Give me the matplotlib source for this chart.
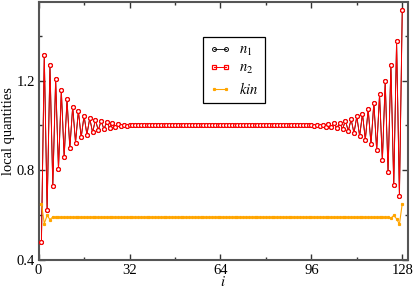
import matplotlib
matplotlib.use("Agg")
import matplotlib.pyplot as plt
from matplotlib.lines import Line2D
from matplotlib.ticker import MultipleLocator

plt.rcParams.update({
    "font.family": "serif",
    "font.serif": ["Liberation Serif", "DejaVu Serif"],
    "mathtext.fontset": "stix",
    "font.size": 10.5,
})

# site index
i = list(range(1, 129))

# local density (n1 and n2 coincide)
n_left = [0.481, 1.316, 0.622, 1.270, 0.730, 1.206, 0.804, 1.156, 0.859, 1.116,
          0.899, 1.084, 0.924, 1.065, 0.947, 1.044, 0.959, 1.032, 0.969, 1.025,
          0.979, 1.020, 0.984, 1.015, 0.990, 1.010, 0.993, 1.007, 0.996, 1.004,
          0.998, 1.002]
n_mid = [1.000] * 64
n_right = [0.998, 1.003, 0.996, 1.004, 0.994, 1.006, 0.991, 1.009, 0.988, 1.013,
           0.984, 1.022, 0.975, 1.028, 0.966, 1.040, 0.953, 1.052, 0.937, 1.072,
           0.916, 1.102, 0.889, 1.138, 0.844, 1.196, 0.792, 1.270, 0.733, 1.375,
           0.686, 1.516]
n1 = n_left + n_mid + n_right
n2 = list(n1)

kin_left = [0.652, 0.563, 0.599, 0.581, 0.592]
kin_mid = [0.590] * 118
kin_right = [0.587, 0.599, 0.584, 0.560, 0.652]
kin = kin_left + kin_mid + kin_right

C_N1 = "black"
C_N2 = "#ff0000"
C_KIN = "#ffa500"

fig = plt.figure(figsize=(4.15, 2.9), dpi=100)
ax = fig.add_axes([0.093, 0.103, 0.890, 0.890])

ax.plot(i, n1, color=C_N1, lw=0.6, marker="o", ms=2.8, mfc="none",
        mec=C_N1, mew=0.7, zorder=2)
ax.plot(i, n2, color=C_N2, lw=0.7, marker="o", ms=2.8, mfc="white",
        mec=C_N2, mew=0.9, zorder=3)
ax.plot(i, kin, color=C_KIN, lw=0.8, marker="s", ms=1.3, mfc=C_KIN,
        mec=C_KIN, zorder=4)

ax.set_xlim(0, 130)
ax.set_ylim(0.4, 1.55)
ax.xaxis.set_major_locator(MultipleLocator(32))
ax.xaxis.set_minor_locator(MultipleLocator(16))
ax.yaxis.set_major_locator(MultipleLocator(0.4))
ax.yaxis.set_minor_locator(MultipleLocator(0.2))
ax.set_yticks([0.4, 0.8, 1.2])
ax.tick_params(which="both", direction="in", top=True, right=True,
               color="#333333", width=1.0)
ax.tick_params(which="major", length=4.5, labelsize=10.5, pad=2.5)
ax.tick_params(which="minor", length=2.3)
for s in ax.spines.values():
    s.set_color("#555555")
    s.set_linewidth(1.5)

ax.set_xlabel("$i$", labelpad=-1)
ax.set_ylabel("local quantities", labelpad=1)

handles = [
    Line2D([], [], color=C_N1, lw=0.6, marker="o", ms=2.8, mfc="none", mew=0.7),
    Line2D([], [], color=C_N2, lw=0.7, marker="s", ms=2.6, mfc="none", mew=0.9),
    Line2D([], [], color=C_KIN, lw=0.8, marker="s", ms=1.3),
]
leg = ax.legend(handles, ["$n_1$", "$n_2$", "$kin$"], loc="upper center",
                bbox_to_anchor=(0.53, 0.865), borderaxespad=0, numpoints=2,
                handlelength=1.4, handletextpad=0.6, fancybox=False,
                edgecolor="black", framealpha=1, borderpad=0.45,
                labelspacing=0.3, fontsize=10.5)
leg.get_frame().set_linewidth(0.9)

fig.savefig("out.png", dpi=100)
